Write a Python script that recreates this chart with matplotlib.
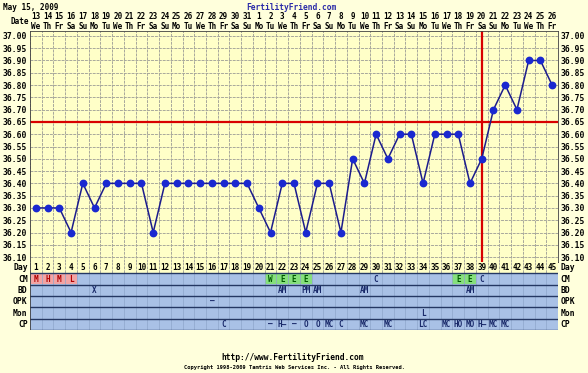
import matplotlib
matplotlib.use("Agg")
import matplotlib.pyplot as plt
from matplotlib.patches import Rectangle

# chart values
days = list(range(1, 46))
temps = [36.30, 36.30, 36.30, 36.20, 36.40, 36.30, 36.40, 36.40, 36.40, 36.40,
         36.20, 36.40, 36.40, 36.40, 36.40, 36.40, 36.40, 36.40, 36.40, 36.30,
         36.20, 36.40, 36.40, 36.20, 36.40, 36.40, 36.20, 36.50, 36.40, 36.60,
         36.50, 36.60, 36.60, 36.40, 36.60, 36.60, 36.60, 36.40, 36.50, 36.70,
         36.80, 36.70, 36.90, 36.90, 36.80]
date_nums = [13, 14, 15, 16, 17, 18, 19, 20, 21, 22, 23, 24, 25, 26, 27, 28, 29, 30, 31,
             1, 2, 3, 4, 5, 6, 7, 8, 9, 10, 11, 12, 13, 14, 15, 16, 17, 18, 19, 20,
             21, 22, 23, 24, 25, 26]
weekdays = ["We", "Th", "Fr", "Sa", "Su", "Mo", "Tu"] * 6 + ["We", "Th", "Fr"]
y_ticks = [round(36.10 + 0.05 * i, 2) for i in range(19)]
coverline = 36.65
ovulation_day = 39

cm_days = [1, 2, 3, 4, 21, 22, 23, 24, 30, 37, 38, 39]
cm_text = ["M", "H", "M", "L", "W", "E", "E", "E", "C", "E", "E", "C"]
cm_kind = ["flow"] * 4 + ["fertile"] * 4 + ["plain", "fertile", "fertile", "plain"]
bd_days = [6, 22, 24, 25, 29, 38]
bd_text = ["X", "AM", "PM", "AM", "AM", "AM"]
opk_days = [16]
opk_text = ["–"]
mon_days = [34]
mon_text = ["L"]
cp_days = [17, 21, 22, 23, 24, 25, 26, 27, 29, 31, 34, 36, 37, 38, 39, 40, 41]
cp_text = ["C", "–", "H–", "–", "O", "O", "MC", "C", "MC", "MC", "LC", "MC", "HO",
           "MO", "H–", "MC", "MC"]
row_names = ["Day", "CM", "BD", "OPK", "Mon", "CP"]

W, H = 588, 373
page = "#ffffdc"
plot_bg = "#ffffc8"
blue_bg = "#a9c1e6"
grid_c = "#a8a89c"
mono = "DejaVu Sans Mono"

fig = plt.figure(figsize=(W / 100, H / 100), dpi=100, facecolor=page)

ax = fig.add_axes([30 / W, 1 - 262 / H, 528 / W, 231 / H])
ax.set_facecolor(plot_bg)
ax.set_xlim(0.5, 45.5)
ax.set_ylim(36.08, 37.02)
for k in range(46):
    ax.axvline(0.5 + k, color=grid_c, lw=0.7, ls=(0, (3, 1)), zorder=1)
for t in y_ticks:
    ax.axhline(t, color=grid_c, lw=0.7, ls=(0, (3, 1)), zorder=1)

ax.axhline(coverline, color="#d80000", lw=1.6, zorder=2)
ax.axvline(ovulation_day, color="#d80000", lw=1.6, zorder=2)
ax.plot(days, temps, color="#1c1c8c", lw=1.1, marker="o", ms=4.6,
        mfc="#1a28d0", mec="#1a28d0", zorder=3)

ax.set_xticks([])
ax.set_yticks(y_ticks)
ax.set_yticklabels([f"{t:.2f}" for t in y_ticks], fontsize=5.8,
                   family=mono, weight="bold")
ax.tick_params(axis="y", length=0, pad=2, labelright=True)
for s in ax.spines.values():
    s.set_color("#404040")
    s.set_linewidth(0.6)

# header rows
for d, n, w in zip(days, date_nums, weekdays):
    ax.text(d, 1.063, str(n), transform=ax.get_xaxis_transform(), ha="center",
            va="center", fontsize=5.5, family=mono, weight="bold")
    ax.text(d, 1.018, w, transform=ax.get_xaxis_transform(), ha="center",
            va="center", fontsize=5.5, family=mono, weight="bold")
fig.text(29 / W, 1 - 22 / H, "Date", ha="right", va="center", fontsize=5.5,
         family=mono, weight="bold")
fig.text(3 / W, 1 - 8 / H, "May 15, 2009", ha="left", va="center", fontsize=5.5,
         family=mono, weight="bold")
fig.text(291 / W, 1 - 7 / H, "FertilityFriend.com", ha="center", va="center",
         fontsize=5.7, family=mono, weight="bold", color="#2a2aa8")

# observation strip
st = fig.add_axes([30 / W, 1 - 330 / H, 528 / W, 68 / H])
st.set_xlim(0.5, 45.5)
st.set_ylim(6, 0)
st.set_xticks([])
st.set_yticks([])
for s in st.spines.values():
    s.set_visible(False)
st.add_patch(Rectangle((0.5, 0), 45, 1, fc=plot_bg, ec="none"))
st.add_patch(Rectangle((0.5, 1), 45, 5, fc=blue_bg, ec="none"))
for k in range(46):
    st.plot([0.5 + k, 0.5 + k], [0, 1], color=grid_c, lw=0.7, ls=(0, (3, 1)))
    st.plot([0.5 + k, 0.5 + k], [1, 6], color="#8fa6cc", lw=0.5)
for r in range(1, 7):
    st.axhline(r, color="#253863", lw=1.0)
st.plot([0.5, 0.5], [0, 6], color="#404040", lw=0.6)
st.plot([45.5, 45.5], [0, 6], color="#404040", lw=0.6)

for d in days:
    st.text(d, 0.5, str(d), ha="center", va="center", fontsize=5.5,
            family=mono, weight="bold")

cell_fc = {"flow": "#f2a4a4", "fertile": "#86e07c", "plain": None}
cell_tc = {"flow": "#b00000", "fertile": "#005a00", "plain": "#1a2a6a"}
for d, t, k in zip(cm_days, cm_text, cm_kind):
    if cell_fc[k]:
        st.add_patch(Rectangle((d - 0.5, 1.08), 1, 0.84, fc=cell_fc[k], ec="none"))
    st.text(d, 1.5, t, ha="center", va="center", fontsize=5.5, family=mono,
            weight="bold", color=cell_tc[k])

for row, (ds, ts) in enumerate([(bd_days, bd_text), (opk_days, opk_text),
                                (mon_days, mon_text), (cp_days, cp_text)], start=2):
    for d, t in zip(ds, ts):
        st.text(d, row + 0.5, t, ha="center", va="center", fontsize=5.5,
                family=mono, weight="bold", color="#1a2a6a")

for i, name in enumerate(row_names):
    st.text(0.3, i + 0.5, name, ha="right", va="center", fontsize=5.8,
            family=mono, weight="bold")
    st.text(45.7, i + 0.5, name, ha="left", va="center", fontsize=5.8,
            family=mono, weight="bold")

# footer
fig.text(293 / W, 1 - 358 / H, "http://www.FertilityFriend.com", ha="center",
         va="center", fontsize=5.7, family=mono, weight="bold")
fig.text(295 / W, 1 - 367 / H,
         "Copyright 1998-2009 Tamtris Web Services Inc. - All Rights Reserved.",
         ha="center", va="center", fontsize=3.9, family=mono, weight="bold")

fig.savefig("out.png", dpi=100, facecolor=page)
